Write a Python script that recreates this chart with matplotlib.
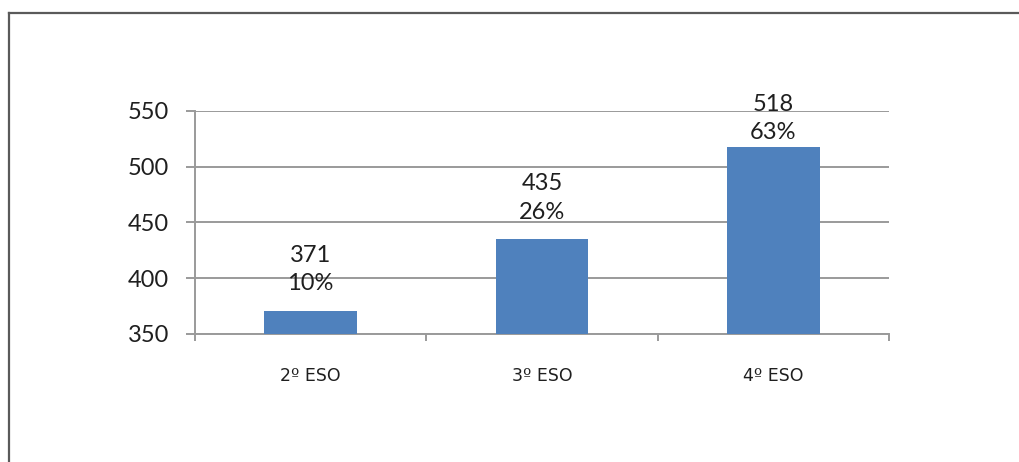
import matplotlib
matplotlib.use("Agg")
import matplotlib.pyplot as plt
from matplotlib.lines import Line2D

# Students per school year and share of the total
courses = ["2º ESO", "3º ESO", "4º ESO"]
students = [371, 435, 518]
shares = ["10%", "26%", "63%"]

plt.rcParams["font.family"] = ["Lato", "DejaVu Sans"]

BAR = "#4F81BD"
GRID = "#9A9A9A"
TEXT = "#1F1F1F"

fig = plt.figure(figsize=(10.19, 4.62), dpi=100)
ax = fig.add_axes([195 / 1019, 1 - 334 / 462, (889 - 195) / 1019, (334 - 111) / 462])

x = list(range(len(courses)))
bars = ax.bar(x, students, width=0.4, color=BAR, zorder=3)

ax.set_ylim(350, 550)
ax.set_xlim(-0.5, len(courses) - 0.5)
ax.set_yticks([350, 400, 450, 500, 550])

# category boundaries carry the tick marks, labels sit at the centres
ax.set_xticks([i - 0.5 for i in range(len(courses) + 1)])
ax.set_xticklabels([])
ax.set_xticks(x, minor=True)
ax.set_xticklabels(courses, minor=True)
for lbl in ax.get_xticklabels(minor=True):
    lbl.set_fontfamily(["DejaVu Sans"])
    lbl.set_fontsize(12.5)

ax.tick_params(axis="y", direction="out", length=6.5, width=1.4, color=GRID,
               labelsize=17, labelcolor=TEXT, pad=12)
ax.tick_params(axis="x", which="major", direction="out", length=5, width=1.4, color=GRID)
ax.tick_params(axis="x", which="minor", length=0, labelcolor=TEXT, pad=24)

ax.yaxis.grid(True, color=GRID, linewidth=1.4, zorder=0)
ax.set_axisbelow(True)
for side in ("top", "right"):
    ax.spines[side].set_visible(False)
for side in ("left", "bottom"):
    ax.spines[side].set_color(GRID)
    ax.spines[side].set_linewidth(1.4)

# value and share above each bar
offsets = [12, 12, 2.5]
for rect, value, share, off in zip(bars, students, shares, offsets):
    cx = rect.get_x() + rect.get_width() / 2
    ax.annotate(f"{value}\n{share}", xy=(cx, value), xytext=(0, off),
                textcoords="offset points", ha="center", va="bottom",
                fontsize=17, color=TEXT, linespacing=1.42, annotation_clip=False)

# chart-area frame
x0 = 8.5 / 1019
y0 = 1 - 13 / 462
fig.add_artist(Line2D([x0, x0], [0, y0], transform=fig.transFigure, color="#5A5A5A", lw=1.6))
fig.add_artist(Line2D([x0, 1], [y0, y0], transform=fig.transFigure, color="#5A5A5A", lw=1.6))

fig.savefig("out.png", dpi=100, facecolor="white")
